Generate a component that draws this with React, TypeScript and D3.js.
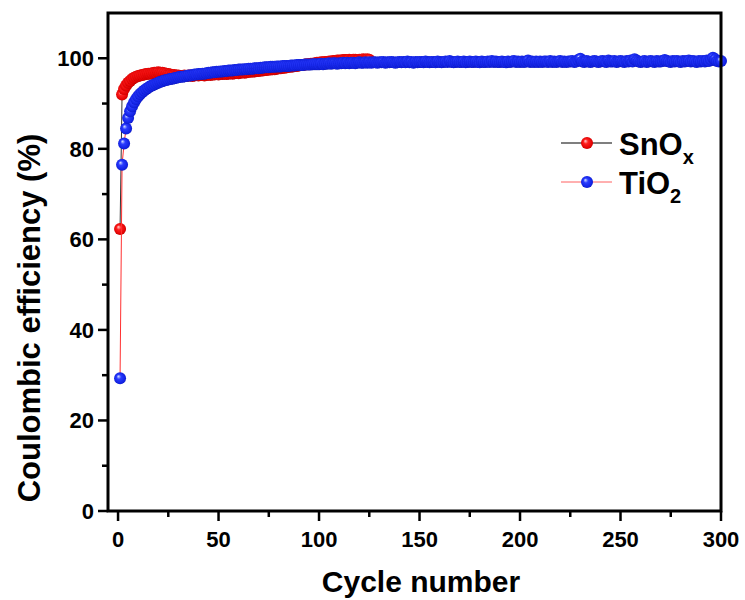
import React from "react";
import * as d3 from "d3";

const snoxValues: number[] = [
  62.3, 92.0, 93.2, 94.0, 94.6, 95.0, 95.4, 95.7, 95.9, 96.1,
  96.2, 96.3, 96.4, 96.5, 96.6, 96.6, 96.7, 96.8, 96.8, 96.9,
  96.8, 96.8, 96.7, 96.6, 96.5, 96.4, 96.3, 96.3, 96.2, 96.2,
  96.1, 96.1, 96.2, 96.1, 96.2, 96.2, 96.1, 96.2, 96.3, 96.2,
  96.3, 96.3, 96.2, 96.3, 96.4, 96.3, 96.4, 96.4, 96.5, 96.4,
  96.5, 96.5, 96.6, 96.5, 96.6, 96.7, 96.6, 96.7, 96.8, 96.7,
  96.8, 96.9, 96.8, 96.9, 97.0, 97.0, 97.1, 97.1, 97.2, 97.2,
  97.3, 97.3, 97.4, 97.4, 97.5, 97.5, 97.6, 97.6, 97.7, 97.8,
  97.8, 97.9, 97.9, 98.0, 98.1, 98.1, 98.2, 98.3, 98.3, 98.4,
  98.5, 98.5, 98.6, 98.7, 98.7, 98.8, 98.8, 98.9, 99.0, 99.0,
  99.1, 99.1, 99.2, 99.2, 99.3, 99.3, 99.4, 99.4, 99.5, 99.5,
  99.5, 99.6, 99.6, 99.6, 99.7, 99.6, 99.7, 99.7, 99.6, 99.7,
  99.7, 99.8, 99.7, 99.8, 99.7,
];

const tio2Values: number[] = [
  29.3, 76.5, 81.2, 84.5, 86.8, 88.3, 89.4, 90.3, 91.0, 91.6,
  92.1, 92.5, 92.9, 93.2, 93.5, 93.8, 94.0, 94.2, 94.4, 94.6,
  94.8, 94.9, 95.1, 95.2, 95.3, 95.4, 95.5, 95.6, 95.7, 95.8,
  95.9, 95.9, 96.0, 96.1, 96.2, 96.2, 96.3, 96.4, 96.4, 96.5,
  96.5, 96.6, 96.6, 96.7, 96.8, 96.8, 96.9, 96.9, 97.0, 97.0,
  97.1, 97.1, 97.2, 97.2, 97.3, 97.3, 97.3, 97.4, 97.4, 97.5,
  97.5, 97.5, 97.6, 97.6, 97.7, 97.7, 97.7, 97.8, 97.8, 97.8,
  97.9, 97.9, 98.0, 98.0, 98.0, 98.1, 98.1, 98.1, 98.2, 98.2,
  98.2, 98.3, 98.3, 98.3, 98.3, 98.4, 98.4, 98.4, 98.5, 98.5,
  98.5, 98.5, 98.6, 98.6, 98.6, 98.6, 98.7, 98.7, 98.7, 98.7,
  98.8, 98.7, 98.8, 98.8, 98.9, 98.8, 98.9, 98.9, 98.8, 98.9,
  98.9, 99.0, 98.9, 99.0, 98.9, 99.0, 99.0, 98.9, 99.0, 99.1,
  99.0, 99.0, 99.1, 99.0, 99.1, 99.0, 99.1, 99.1, 99.0, 99.1,
  99.1, 99.2, 99.0, 99.1, 99.1, 99.2, 99.1, 99.0, 99.1, 99.2,
  99.1, 99.2, 99.1, 99.3, 99.1, 99.2, 99.0, 99.2, 99.1, 99.2,
  99.2, 99.1, 99.3, 99.2, 99.1, 99.2, 99.2, 99.1, 99.3, 99.2,
  99.1, 99.2, 99.3, 99.2, 99.4, 99.2, 99.1, 99.2, 99.3, 99.2,
  99.2, 99.3, 99.1, 99.2, 99.3, 99.2, 99.2, 99.3, 99.2, 99.1,
  99.3, 99.2, 99.2, 99.3, 99.2, 99.4, 99.2, 99.3, 99.2, 99.2,
  99.3, 99.2, 99.1, 99.3, 99.2, 99.3, 99.4, 99.2, 99.3, 99.2,
  99.3, 99.2, 99.3, 99.5, 99.2, 99.3, 99.2, 99.3, 99.2, 99.3,
  99.2, 99.3, 99.3, 99.2, 99.4, 99.2, 99.3, 99.2, 99.3, 99.4,
  99.2, 99.3, 99.2, 99.3, 99.3, 99.4, 99.2, 99.3, 99.6, 99.9,
  99.3, 99.2, 99.4, 99.3, 99.2, 99.3, 99.4, 99.3, 99.2, 99.3,
  99.4, 99.3, 99.2, 99.5, 99.3, 99.3, 99.4, 99.2, 99.3, 99.4,
  99.3, 99.2, 99.4, 99.3, 99.5, 99.3, 99.8, 99.5, 99.3, 99.2,
  99.3, 99.4, 99.2, 99.3, 99.4, 99.3, 99.2, 99.4, 99.3, 99.3,
  99.4, 99.6, 99.4, 99.3, 99.2, 99.4, 99.3, 99.4, 99.3, 99.2,
  99.4, 99.3, 99.4, 99.5, 99.3, 99.4, 99.3, 99.2, 99.4, 99.3,
  99.4, 99.3, 99.5, 99.4, 99.7, 100.1, 99.8, 99.4, 99.3, 99.4,
];

const xMajorTicks = [0, 50, 100, 150, 200, 250, 300];
const xMinorTicks = [25, 75, 125, 175, 225, 275];
const yMajorTicks = [0, 20, 40, 60, 80, 100];
const yMinorTicks = [10, 30, 50, 70, 90];

const FONT = "'Liberation Sans Narrow', 'Arial Narrow', 'Liberation Sans', Arial, sans-serif";
const FONT_REG = "'Liberation Sans', Arial, sans-serif";

export default function App() {
  const left = 108, right = 721, top = 13, bottom = 511;
  const x = d3.scaleLinear().domain([-5, 300]).range([left, right]);
  const y = d3.scaleLinear().domain([0, 110]).range([bottom, top]);

  const snox = snoxValues.map((v, i) => ({ c: i + 1, v }));
  const tio2 = tio2Values.map((v, i) => ({ c: i + 1, v }));

  const line = d3
    .line<{ c: number; v: number }>()
    .x((d) => x(d.c))
    .y((d) => y(d.v));

  const r = 6;

  return (
    <svg
      width={745}
      height={600}
      style={{ position: "absolute", left: 0, top: 0, background: "#fff" }}
    >
      <defs>
        <radialGradient id="gRed" cx="50%" cy="50%" r="55%" fx="35%" fy="32%">
          <stop offset="0%" stopColor="#ffd0d0" />
          <stop offset="35%" stopColor="#ff2020" />
          <stop offset="85%" stopColor="#e00000" />
          <stop offset="100%" stopColor="#a00000" />
        </radialGradient>
        <radialGradient id="gBlue" cx="50%" cy="50%" r="55%" fx="35%" fy="32%">
          <stop offset="0%" stopColor="#d8e4ff" />
          <stop offset="35%" stopColor="#2a3cff" />
          <stop offset="85%" stopColor="#1020e0" />
          <stop offset="100%" stopColor="#0a10a0" />
        </radialGradient>
      </defs>

      {/* SnOx series */}
      <path d={line(snox) || ""} fill="none" stroke="#333" strokeWidth={1} />
      {snox.map((d) => (
        <circle key={"s" + d.c} cx={x(d.c)} cy={y(d.v)} r={r} fill="url(#gRed)" />
      ))}
      {/* TiO2 series */}
      <path d={line(tio2) || ""} fill="none" stroke="#ff3030" strokeWidth={1} />
      {tio2.map((d) => (
        <circle key={"t" + d.c} cx={x(d.c)} cy={y(d.v)} r={r} fill="url(#gBlue)" />
      ))}

      {/* frame */}
      <rect
        x={left}
        y={top}
        width={right - left}
        height={bottom - top}
        fill="none"
        stroke="#000"
        strokeWidth={3}
      />

      {/* x ticks */}
      {xMajorTicks.map((t) => (
        <g key={"xm" + t}>
          <line x1={x(t)} x2={x(t)} y1={bottom} y2={bottom + 10} stroke="#000" strokeWidth={2.5} />
          <text
            x={x(t)}
            y={bottom + 36}
            textAnchor="middle"
            fontFamily={FONT}
            fontWeight="bold"
            fontSize={22}
          >
            {t}
          </text>
        </g>
      ))}
      {xMinorTicks.map((t) => (
        <line key={"xn" + t} x1={x(t)} x2={x(t)} y1={bottom} y2={bottom + 6} stroke="#000" strokeWidth={2.5} />
      ))}

      {/* y ticks */}
      {yMajorTicks.map((t) => (
        <g key={"ym" + t}>
          <line x1={left} x2={left - 10} y1={y(t)} y2={y(t)} stroke="#000" strokeWidth={2.5} />
          <text
            x={left - 14}
            y={y(t) + 8}
            textAnchor="end"
            fontFamily={FONT}
            fontWeight="bold"
            fontSize={22}
          >
            {t}
          </text>
        </g>
      ))}
      {yMinorTicks.map((t) => (
        <line key={"yn" + t} x1={left} x2={left - 6} y1={y(t)} y2={y(t)} stroke="#000" strokeWidth={2.5} />
      ))}

      {/* axis titles */}
      <text
        x={421}
        y={592}
        textAnchor="middle"
        fontFamily={FONT_REG}
        fontWeight="bold"
        fontSize={30}
      >
        Cycle number
      </text>
      <text
        transform={`translate(40, ${318}) rotate(-90)`}
        textAnchor="middle"
        fontFamily={FONT_REG}
        fontWeight="bold"
        fontSize={31}
      >
        Coulombic efficiency (%)
      </text>

      {/* legend */}
      <line x1={561} x2={612} y1={143} y2={143} stroke="#555" strokeWidth={1.5} />
      <circle cx={587} cy={143} r={6} fill="url(#gRed)" />
      <text x={619} y={155} fontFamily={FONT_REG} fontWeight="bold" fontSize={31}>
        SnO
        <tspan fontSize={20} dy={9}>x</tspan>
      </text>
      <line x1={561} x2={612} y1={182} y2={182} stroke="#ff6060" strokeWidth={1} />
      <circle cx={587} cy={182} r={6} fill="url(#gBlue)" />
      <text x={619} y={194} fontFamily={FONT_REG} fontWeight="bold" fontSize={31}>
        TiO
        <tspan fontSize={20} dy={9}>2</tspan>
      </text>
    </svg>
  );
}
